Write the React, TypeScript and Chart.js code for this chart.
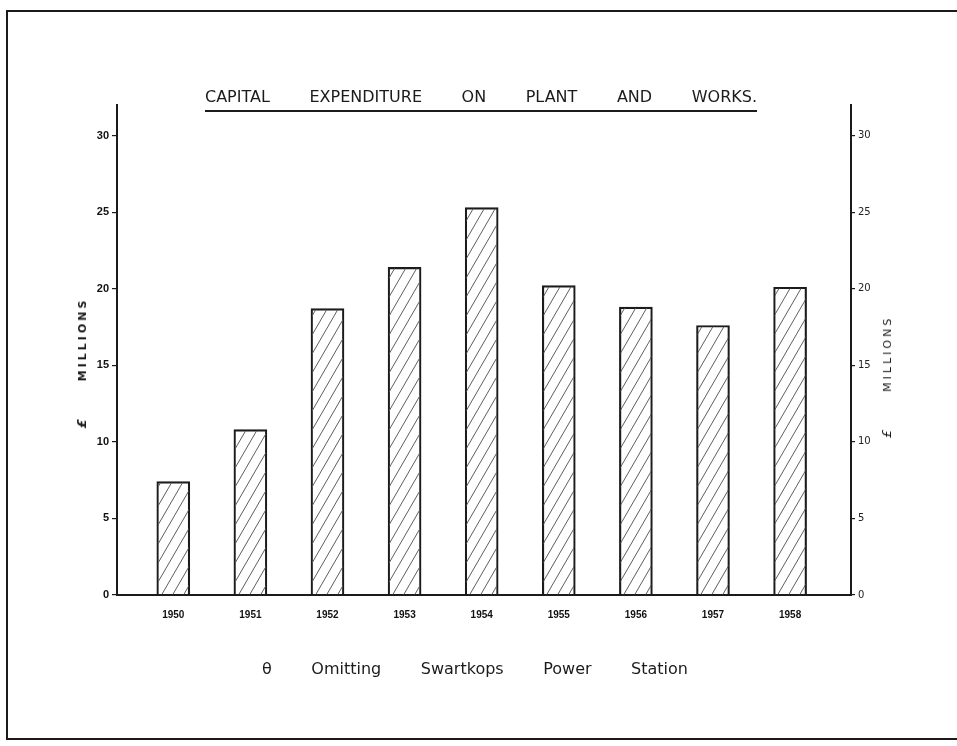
import React, { useEffect, useRef } from "react";
import { Chart, registerables } from "chart.js";

Chart.register(...registerables);

// ---- data ----
const years = [1950, 1951, 1952, 1953, 1954, 1955, 1956, 1957, 1958];
const values = [7.4, 10.8, 18.7, 21.4, 25.3, 20.2, 18.8, 17.6, 20.1];
const yTicks = [0, 5, 10, 15, 20, 25, 30];
const titleWords = ["CAPITAL", "EXPENDITURE", "ON", "PLANT", "AND", "WORKS."];
const noteWords = ["θ", "Omitting", "Swartkops", "Power", "Station"];
const axisUnit = "£";
const axisWord = "MILLIONS";

const INK = "#1b1b1b";

function makeHatch(): CanvasPattern | string {
  const w = 11;
  const h = 19;
  const c = document.createElement("canvas");
  c.width = w;
  c.height = h;
  const ctx = c.getContext("2d");
  if (!ctx) return "#ddd";
  ctx.strokeStyle = "#5e5e5e";
  ctx.lineWidth = 1;
  for (const k of [-1, 0, 1]) {
    ctx.beginPath();
    ctx.moveTo(k * w, h);
    ctx.lineTo(k * w + w, 0);
    ctx.stroke();
  }
  return ctx.createPattern(c, "repeat") || "#ddd";
}

export default function App() {
  const ref = useRef<HTMLCanvasElement | null>(null);

  useEffect(() => {
    document.body.style.margin = "0";
    const canvas = ref.current;
    if (!canvas) return;
    const hatch = makeHatch();
    const chart = new Chart(canvas, {
      type: "bar",
      data: {
        datasets: [
          {
            data: years.map((y, i) => ({ x: y, y: values[i] })),
            backgroundColor: hatch as any,
            borderColor: INK,
            borderWidth: 1.5,
            barThickness: 33,
            yAxisID: "y",
          },
        ],
      },
      options: {
        animation: false,
        responsive: false,
        layout: { padding: { top: 105, left: 0, right: 0, bottom: 0 } },
        plugins: {
          legend: { display: false },
          tooltip: { enabled: false },
          title: { display: false },
        },
        scales: {
          x: {
            type: "linear",
            offset: false,
            min: 1949.27,
            max: 1958.79,
            afterBuildTicks: (a: any) => {
              a.ticks = years.map((v) => ({ value: v }));
            },
            afterFit: (s: any) => {
              s.height = 151;
            },
            grid: { display: true, offset: false, drawOnChartArea: false, drawTicks: false },
            border: { display: true, color: INK, width: 2 },
            ticks: {
              callback: (v: any) => String(v),
              padding: 14,
              autoSkip: false,
              maxRotation: 0,
              color: "#111",
              font: { family: "Liberation Sans", size: 10, weight: "bold" },
            },
          },
          y: {
            type: "linear",
            position: "left",
            min: 0,
            max: 32,
            afterBuildTicks: (a: any) => {
              a.ticks = yTicks.map((v) => ({ value: v }));
            },
            afterFit: (s: any) => {
              s.width = 117;
            },
            grid: { drawOnChartArea: false, tickLength: 5, color: INK, lineWidth: 1.2 },
            border: { display: true, color: INK, width: 2 },
            ticks: {
              padding: 3,
              color: "#111",
              font: { family: "Liberation Sans", size: 11, weight: "bold" },
            },
          },
          y2: {
            type: "linear",
            position: "right",
            min: 0,
            max: 32,
            afterBuildTicks: (a: any) => {
              a.ticks = yTicks.map((v) => ({ value: v }));
            },
            afterFit: (s: any) => {
              s.width = 106;
            },
            grid: { drawOnChartArea: false, tickLength: 4, color: INK, lineWidth: 1.2 },
            border: { display: true, color: INK, width: 2 },
            ticks: {
              padding: 3,
              color: "#222",
              font: { family: "DejaVu Sans", size: 10 },
            },
          },
        },
      },
    } as any);
    return () => chart.destroy();
  }, []);

  const line = (style: React.CSSProperties): React.CSSProperties => ({
    position: "absolute",
    background: INK,
    ...style,
  });

  const axisTitle = (cx: number, cy: number, bold: boolean) => (
    <div
      style={{
        position: "absolute",
        left: cx,
        top: cy,
        transform: "translate(-50%, -50%) rotate(-90deg)",
        whiteSpace: "nowrap",
        fontFamily: "DejaVu Sans",
        fontSize: 11,
        fontWeight: bold ? "bold" : "normal",
        color: INK,
        lineHeight: "13px",
      }}
    >
      <span style={{ fontSize: 13, fontStyle: "italic" }}>{axisUnit}</span>
      <span style={{ marginLeft: 38, letterSpacing: 3 }}>{axisWord}</span>
    </div>
  );

  return (
    <div
      style={{
        position: "relative",
        width: 957,
        height: 746,
        background: "#fff",
        overflow: "hidden",
      }}
    >
      <canvas ref={ref} width={957} height={746} style={{ position: "absolute", left: 0, top: 0 }} />

      {/* page frame */}
      <div style={line({ left: 6, top: 10, width: 951, height: 2 })} />
      <div style={line({ left: 6, top: 10, width: 2, height: 730 })} />
      <div style={line({ left: 6, top: 738, width: 951, height: 2 })} />

      {/* title */}
      <div
        style={{
          position: "absolute",
          left: 205,
          top: 87,
          width: 552,
          display: "flex",
          justifyContent: "space-between",
          fontFamily: "DejaVu Sans",
          fontSize: 16,
          lineHeight: "19px",
          color: INK,
          paddingBottom: 4,
          borderBottom: `2px solid ${INK}`,
        }}
      >
        {titleWords.map((w) => (
          <span key={w}>{w}</span>
        ))}
      </div>

      {/* axis titles */}
      {axisTitle(82, 363, true)}
      {axisTitle(887, 377, false)}

      {/* footnote */}
      <div
        style={{
          position: "absolute",
          left: 262,
          top: 659,
          width: 426,
          display: "flex",
          justifyContent: "space-between",
          fontFamily: "DejaVu Sans",
          fontSize: 16,
          lineHeight: "19px",
          color: INK,
        }}
      >
        {noteWords.map((w) => (
          <span key={w}>{w}</span>
        ))}
      </div>
    </div>
  );
}
